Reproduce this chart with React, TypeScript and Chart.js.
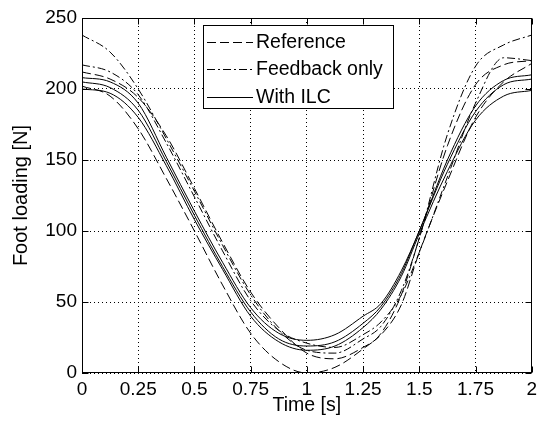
import { useEffect, useRef } from 'react';
import { Chart, registerables } from 'chart.js';

Chart.register(...registerables);

// Time samples [s]
const times = [0, 0.125, 0.25, 0.375, 0.5, 0.625, 0.75, 0.875, 1, 1.125, 1.25, 1.33, 1.42, 1.5, 1.625, 1.75, 1.875, 2];

// Reference (dashed)
const referenceA = [202, 195, 172, 137, 100, 62, 28, 8, 0, 4, 17, 28, 55, 95, 160, 203, 217, 220];
const referenceB = [212, 207, 194, 167, 130, 92, 57, 32, 14, 10, 18, 27, 48, 85, 135, 180, 205, 218];

// Feedback only (dash-dot)
const feedbackA = [238, 226, 200, 165, 128, 90, 55, 30, 16, 14, 24, 33, 58, 95, 168, 216, 231, 238];
const feedbackB = [217, 212, 196, 162, 124, 86, 51, 30, 21, 18, 27, 36, 55, 85, 138, 190, 222, 220];

// With ILC (solid)
const ilcA = [208, 205, 190, 152, 114, 78, 46, 28, 23, 27, 40, 49, 72, 100, 150, 188, 206, 210];
const ilcB = [205, 201, 185, 149, 111, 75, 43, 24, 19, 22, 35, 47, 70, 100, 147, 184, 203, 207];
const ilcC = [200, 197, 180, 146, 108, 73, 40, 22, 16, 19, 32, 45, 68, 98, 142, 178, 195, 199];

const xTickLabels = ['0', '0.25', '0.5', '0.75', '1', '1.25', '1.5', '1.75', '2'];
const yTickLabels = ['0', '50', '100', '150', '200', '250'];

const legendLabels = ['Reference', 'Feedback only', 'With ILC'];
const DASHED = [9, 4];
const DASHDOT = [8, 3, 2, 3];
const SOLID: number[] = [];
const legendDashes = [DASHED, DASHDOT, SOLID];

const FONT = '"Liberation Sans", Arial, Helvetica, sans-serif';

export default function App() {
  const ref = useRef<HTMLCanvasElement>(null);

  useEffect(() => {
    document.body.style.margin = '0';
    const canvas = ref.current;
    if (!canvas) return;

    const mk = (label: string, values: number[], dash: number[]) => ({
      label,
      data: times.map((t, i) => ({ x: t, y: values[i] })),
      borderColor: '#000',
      borderWidth: 1,
      borderDash: dash,
      pointRadius: 0,
      fill: false,
      cubicInterpolationMode: 'monotone' as const,
    });

    const framePlugin = {
      id: 'frame',
      afterDatasetsDraw(chart: any) {
        const { ctx, chartArea: a, scales } = chart;
        ctx.save();
        ctx.strokeStyle = '#000';
        ctx.lineWidth = 1;
        ctx.setLineDash([]);
        const L = Math.round(a.left) + 0.5;
        const R = Math.round(a.right) - 0.5;
        const T = Math.round(a.top) + 0.5;
        const B = Math.round(a.bottom) - 0.5;
        ctx.strokeRect(L, T, R - L, B - T);
        const tl = 6;
        ctx.beginPath();
        xTickLabels.forEach((_, i) => {
          const px = Math.round(scales.x.getPixelForValue(i * 0.25)) + 0.5;
          ctx.moveTo(px, B); ctx.lineTo(px, B - tl);
          ctx.moveTo(px, T); ctx.lineTo(px, T + tl);
        });
        yTickLabels.forEach((_, i) => {
          const py = Math.round(scales.y.getPixelForValue(i * 50)) + 0.5;
          ctx.moveTo(L, py); ctx.lineTo(L + tl, py);
          ctx.moveTo(R, py); ctx.lineTo(R - tl, py);
        });
        ctx.stroke();

        // legend
        const bx = 203.5, by = 25.5, bw = 190, bh = 83;
        ctx.fillStyle = '#fff';
        ctx.fillRect(bx, by, bw, bh);
        ctx.strokeRect(bx, by, bw, bh);
        const rows = [42, 69, 97];
        ctx.font = `19.5px ${FONT}`;
        ctx.fillStyle = '#000';
        ctx.textBaseline = 'middle';
        ctx.textAlign = 'left';
        legendLabels.forEach((lab, i) => {
          const y = rows[i] + 0.5;
          ctx.setLineDash(legendDashes[i]);
          ctx.beginPath();
          ctx.moveTo(207, y);
          ctx.lineTo(253, y);
          ctx.stroke();
          ctx.setLineDash([]);
          ctx.fillText(lab, 256, rows[i] + 1);
        });
        ctx.restore();
      },
    };

    const chart = new Chart(canvas, {
      type: 'line',
      data: {
        datasets: [
          mk(legendLabels[0], referenceA, DASHED),
          mk(legendLabels[0], referenceB, DASHED),
          mk(legendLabels[1], feedbackA, DASHDOT),
          mk(legendLabels[1], feedbackB, DASHDOT),
          mk(legendLabels[2], ilcA, SOLID),
          mk(legendLabels[2], ilcB, SOLID),
          mk(legendLabels[2], ilcC, SOLID),
        ],
      },
      options: {
        responsive: false,
        animation: false,
        layout: { padding: { top: 18, right: 6, left: 0, bottom: 0 } },
        plugins: { legend: { display: false }, tooltip: { enabled: false } },
        scales: {
          x: {
            type: 'linear',
            min: 0,
            max: 2,
            afterFit: (s: any) => { s.height = 54; },
            ticks: {
              stepSize: 0.25,
              color: '#000',
              font: { family: FONT, size: 19 },
              padding: 5,
              maxRotation: 0,
              autoSkip: false,
              callback: (_v: any, i: number) => xTickLabels[i],
            },
            grid: { color: '#000', lineWidth: 1, drawTicks: false },
            border: { display: false, dash: [1, 3] },
            title: {
              display: true,
              text: 'Time [s]',
              color: '#000',
              font: { family: FONT, size: 19.5 },
              padding: { top: 0, bottom: 10 },
            },
          },
          y: {
            type: 'linear',
            min: 0,
            max: 250,
            afterFit: (s: any) => { s.width = 82; },
            ticks: {
              stepSize: 50,
              color: '#000',
              font: { family: FONT, size: 19 },
              padding: 5,
              callback: (_v: any, i: number) => yTickLabels[i],
            },
            grid: { color: '#000', lineWidth: 1, drawTicks: false },
            border: { display: false, dash: [1, 3] },
            title: {
              display: true,
              text: 'Foot loading [N]',
              color: '#000',
              font: { family: FONT, size: 20 },
              padding: { top: 9, bottom: 0 },
            },
          },
        },
      },
      plugins: [framePlugin],
    });

    return () => chart.destroy();
  }, []);

  return (
    <div style={{ width: 542, height: 427 }}>
      <canvas ref={ref} width={542} height={427} style={{ display: 'block' }} />
    </div>
  );
}
